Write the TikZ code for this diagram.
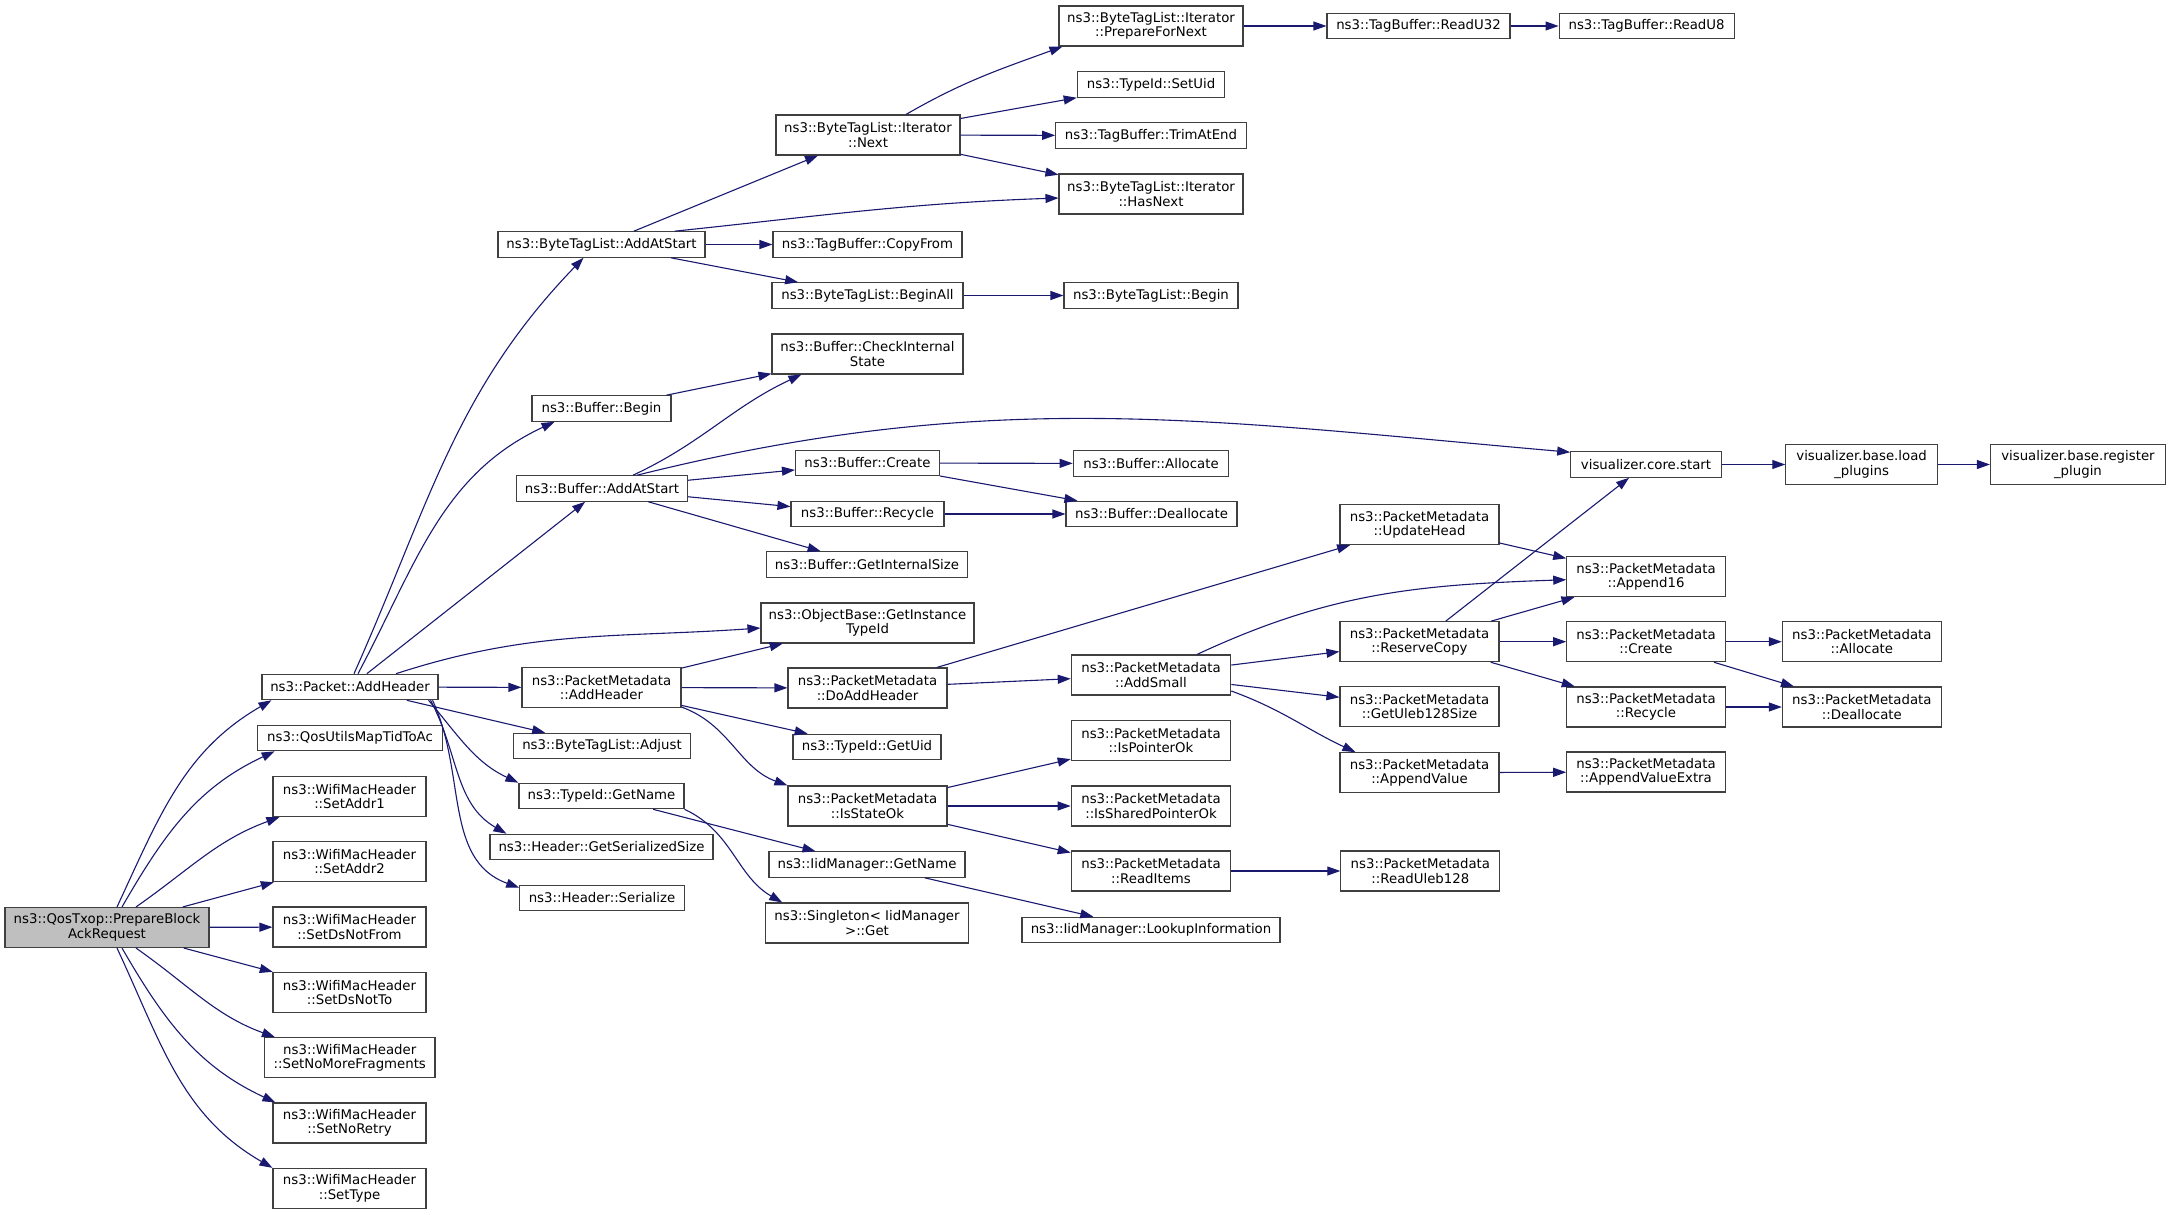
\documentclass[tikz,border=0pt]{standalone}
\usepackage{fontspec}
\setmainfont{DejaVu Sans}
\usetikzlibrary{arrows.meta, positioning}
\definecolor{callblue}{HTML}{191970}
\definecolor{boxline}{HTML}{404040}
\definecolor{rootgray}{HTML}{BFBFBF}
\tikzset{
->, % every connector is a call
>={Triangle[length=13pt,width=9pt]}, % filled heads like graphviz
fn/.style={draw=boxline, line width=1.1pt, fill=white, inner xsep=2pt, inner ysep=1pt, minimum height=25.5pt, align=center, font=\fontsize{13.3}{14.5}\selectfont}, % one line function box
fn2/.style={fn, minimum height=40pt}, % two line function box
rootfn/.style={fn2, fill=rootgray}, % the function the graph is drawn for
call/.style={draw=callblue, line width=1.1pt}, % colour of the calls
}

\begin{document}
\begin{tikzpicture}[x=1pt, y=1pt]
        \useasboundingbox (0,0) rectangle (2168,-1215);

        \node[rootfn, minimum width=204pt] (root) at (107,-927.5) {ns3::QosTxop::PrepareBlock\\AckRequest};
        \node[fn, minimum width=176pt] (pkt) at (350,-687) {ns3::Packet::AddHeader};
        \node[fn, minimum width=185.5pt] (qos) at (350,-738) {ns3::QosUtilsMapTidToAc};
        \node[fn2, minimum width=153pt] (addr1) at (349.5,-796.6) {ns3::WifiMacHeader\\::SetAddr1};
        \node[fn2, minimum width=153pt] (addr2) at (349.5,-861.7) {ns3::WifiMacHeader\\::SetAddr2};
        \node[fn2, minimum width=153pt] (dsfrom) at (349.5,-927) {ns3::WifiMacHeader\\::SetDsNotFrom};
        \node[fn2, minimum width=153pt] (dsto) at (349.5,-992.4) {ns3::WifiMacHeader\\::SetDsNotTo};
        \node[fn2, minimum width=170.5pt] (nomore) at (349.75,-1057.7) {ns3::WifiMacHeader\\::SetNoMoreFragments};
        \node[fn2, minimum width=153pt] (noretry) at (349.5,-1123) {ns3::WifiMacHeader\\::SetNoRetry};
        \node[fn2, minimum width=153pt] (settype) at (349.5,-1188.4) {ns3::WifiMacHeader\\::SetType};

        \node[fn, minimum width=207pt] (baladd) at (601.5,-244.5) {ns3::ByteTagList::AddAtStart};
        \node[fn, minimum width=139pt] (bbegin) at (601.5,-408.5) {ns3::Buffer::Begin};
        \node[fn, minimum width=171pt] (badd) at (602,-488.5) {ns3::Buffer::AddAtStart};
        \node[fn2, minimum width=159pt] (pmadd) at (601.5,-687.5) {ns3::PacketMetadata\\::AddHeader};
        \node[fn, minimum width=177.5pt] (adjust) at (602,-746) {ns3::ByteTagList::Adjust};
        \node[fn, minimum width=165pt] (tgname) at (601.5,-796) {ns3::TypeId::GetName};
        \node[fn, minimum width=223pt] (hgss) at (601.5,-847) {ns3::Header::GetSerializedSize};
        \node[fn, minimum width=164.5pt] (hser) at (602,-898) {ns3::Header::Serialize};

        \node[fn2, minimum width=184pt] (itnext) at (868,-135) {ns3::ByteTagList::Iterator\\::Next};
        \node[fn, minimum width=189pt] (copyfrom) at (867.5,-244.5) {ns3::TagBuffer::CopyFrom};
        \node[fn, minimum width=191pt] (beginall) at (867.5,-295.5) {ns3::ByteTagList::BeginAll};
        \node[fn2, minimum width=191pt] (checkis) at (867.5,-354) {ns3::Buffer::CheckInternal\\State};
        \node[fn, minimum width=144pt] (bcreate) at (867.5,-463) {ns3::Buffer::Create};
        \node[fn, minimum width=153pt] (brecycle) at (867.5,-514) {ns3::Buffer::Recycle};
        \node[fn, minimum width=201.5pt] (bgis) at (867,-564.5) {ns3::Buffer::GetInternalSize};
        \node[fn2, minimum width=213pt] (objbase) at (867.5,-623) {ns3::ObjectBase::GetInstance\\TypeId};
        \node[fn2, minimum width=159pt] (doadd) at (867.5,-688) {ns3::PacketMetadata\\::DoAddHeader};
        \node[fn, minimum width=148pt] (getuid) at (867,-747) {ns3::TypeId::GetUid};
        \node[fn2, minimum width=159pt] (isstate) at (867.5,-806) {ns3::PacketMetadata\\::IsStateOk};
        \node[fn, minimum width=196pt] (iidname) at (867,-864.5) {ns3::IidManager::GetName};
        \node[fn2, minimum width=202.5pt] (single) at (867,-923) {ns3::Singleton< IidManager\\>::Get};

        \node[fn2, minimum width=184pt] (prepnext) at (1151,-26) {ns3::ByteTagList::Iterator\\::PrepareForNext};
        \node[fn, minimum width=147.5pt] (setuid) at (1151,-84.5) {ns3::TypeId::SetUid};
        \node[fn, minimum width=190.5pt] (trim) at (1151,-135.5) {ns3::TagBuffer::TrimAtEnd};
        \node[fn2, minimum width=184pt] (hasnext) at (1151,-194) {ns3::ByteTagList::Iterator\\::HasNext};
        \node[fn, minimum width=174pt] (btlbegin) at (1151,-295.5) {ns3::ByteTagList::Begin};
        \node[fn, minimum width=155.5pt] (balloc) at (1151,-463.5) {ns3::Buffer::Allocate};
        \node[fn, minimum width=171pt] (bdealloc) at (1151.5,-514) {ns3::Buffer::Deallocate};
        \node[fn2, minimum width=159.5pt] (addsmall) at (1151,-675) {ns3::PacketMetadata\\::AddSmall};
        \node[fn2, minimum width=159.5pt] (isptr) at (1151,-740.6) {ns3::PacketMetadata\\::IsPointerOk};
        \node[fn2, minimum width=159.5pt] (isshared) at (1151,-806) {ns3::PacketMetadata\\::IsSharedPointerOk};
        \node[fn2, minimum width=159.5pt] (readitems) at (1151,-871) {ns3::PacketMetadata\\::ReadItems};
        \node[fn, minimum width=258pt] (lookup) at (1151,-930) {ns3::IidManager::LookupInformation};

        \node[fn, minimum width=183pt] (readu32) at (1418.5,-26) {ns3::TagBuffer::ReadU32};
        \node[fn2, minimum width=159pt] (updhead) at (1419.5,-524.6) {ns3::PacketMetadata\\::UpdateHead};
        \node[fn2, minimum width=159pt] (rescopy) at (1419.5,-641.7) {ns3::PacketMetadata\\::ReserveCopy};
        \node[fn2, minimum width=159pt] (getuleb) at (1419.5,-706.7) {ns3::PacketMetadata\\::GetUleb128Size};
        \node[fn2, minimum width=159pt] (appval) at (1419.5,-772.7) {ns3::PacketMetadata\\::AppendValue};
        \node[fn2, minimum width=159pt, right=109pt of readitems] (readuleb) {ns3::PacketMetadata\\::ReadUleb128};

        \node[fn, minimum width=175pt, right=48pt of readu32] (readu8) {ns3::TagBuffer::ReadU8};
        \node[fn, minimum width=150.5pt] (vstart) at (1646,-464.5) {visualizer.core.start};
        \node[fn2, minimum width=158.5pt] (append16) at (1646,-576.7) {ns3::PacketMetadata\\::Append16};
        \node[fn2, minimum width=158.5pt] (pmcreate) at (1646,-641.7) {ns3::PacketMetadata\\::Create};
        \node[fn2, minimum width=158.5pt] (pmrecycle) at (1646,-707) {ns3::PacketMetadata\\::Recycle};
        \node[fn2, minimum width=158.5pt] (appvx) at (1646,-772) {ns3::PacketMetadata\\::AppendValueExtra};

        \node[fn2, minimum width=151.5pt, right=63.5pt of vstart] (vload) {visualizer.base.load\\\_plugins};
        \node[fn2, minimum width=159pt, right=56pt of pmcreate] (pmalloc) {ns3::PacketMetadata\\::Allocate};
        \node[fn2, minimum width=159pt, right=56pt of pmrecycle] (pmdealloc) {ns3::PacketMetadata\\::Deallocate};
        \node[fn2, minimum width=175pt, right=52pt of vload] (vreg) {visualizer.base.register\\\_plugin};

        \begin{scope}[call]
        \draw ([xshift=10pt]root.north) to[out=65,in=210] ([xshift=10pt]pkt.south west);
        \draw ([xshift=15pt]root.north) to[out=60,in=205] ([xshift=18pt]qos.south west);
        \draw ([xshift=29pt]root.north) to[out=35,in=200] ([xshift=7pt]addr1.south west);
        \draw (root) edge (addr2) edge (dsfrom) edge (dsto);
        \draw ([xshift=29pt]root.south) to[out=-35,in=160] ([xshift=11pt]nomore.north west);
        \draw ([xshift=15pt]root.south) to[out=-60,in=155] ([xshift=3pt]noretry.north west);
        \draw ([xshift=10pt]root.south) to[out=-65,in=150] (settype.north west);

        \draw ([xshift=4pt]pkt.north) to[out=66,in=226] ([xshift=-18pt]baladd.south);
        \draw ([xshift=8pt]pkt.north) to[out=62,in=205] ([xshift=-47pt]bbegin.south);
        \draw ([xshift=46pt]pkt.north) to[out=18,in=184] ([yshift=-5pt]objbase.west);
        \draw (pkt) edge (badd) edge (pmadd) edge (adjust);
        \draw ([xshift=-10pt]pkt.south east) to[out=-50,in=155] (tgname.north west);
        \draw ([xshift=-8pt]pkt.south east) to[out=-62,in=150] ([xshift=17pt]hgss.north west);
        \draw ([xshift=-6pt]pkt.south east) to[out=-65,in=160] ([yshift=-3pt]hser.north west);

        \draw (baladd) edge (itnext) edge (copyfrom) edge (beginall);
        \draw ([xshift=-31pt]baladd.north east) to[out=6,in=182] ([yshift=-4pt]hasnext.west);
        \draw ([xshift=38pt]itnext.north) to[out=30,in=200] ([xshift=4pt]prepnext.south west);
        \draw (itnext) edge (setuid) edge (trim) edge (hasnext);
        \draw (prepnext) edge (readu32);
        \draw (readu32) edge (readu8);
        \draw (beginall) edge (btlbegin);
        \draw (bbegin) edge (checkis);

        \draw ([xshift=31pt]badd.north) to[out=25,in=205] ([xshift=30pt]checkis.south west);
        \draw ([xshift=35pt]badd.north) to[out=14,in=175] ([yshift=-1pt]vstart.north west);
        \draw (badd) edge (bcreate) edge (brecycle) edge (bgis);
        \draw (bcreate) edge (balloc) edge (bdealloc);
        \draw (brecycle) edge (bdealloc);
        \draw (vstart) edge (vload);
        \draw (vload) edge (vreg);

        \draw (pmadd) edge (objbase) edge (doadd) edge (getuid);
        \draw ([yshift=1pt]pmadd.south east) to[out=-20,in=160] (isstate.north west);
        \draw (doadd) edge (updhead) edge (addsmall);
        \draw (updhead) edge (append16);
        \draw ([xshift=46pt]addsmall.north) to[out=25,in=182] ([yshift=-3pt]append16.west);
        \draw (addsmall) edge (rescopy) edge (getuleb);
        \draw ([yshift=-16pt]addsmall.east) to[out=-20,in=155] ([xshift=16pt]appval.north west);
        \draw (rescopy) edge (vstart) edge (append16) edge (pmcreate) edge (pmrecycle);
        \draw (pmcreate) edge (pmalloc) edge (pmdealloc);
        \draw (pmrecycle) edge (pmdealloc);
        \draw (appval) edge (appvx);

        \draw (isstate) edge (isptr) edge (isshared) edge (readitems);
        \draw (readitems) edge (readuleb);
        \draw (tgname) edge (iidname);
        \draw (tgname.south east) to[out=-25,in=150] ([xshift=17pt]single.north west);
        \draw (iidname) edge (lookup);
        \end{scope}
    \end{tikzpicture}
\end{document}
